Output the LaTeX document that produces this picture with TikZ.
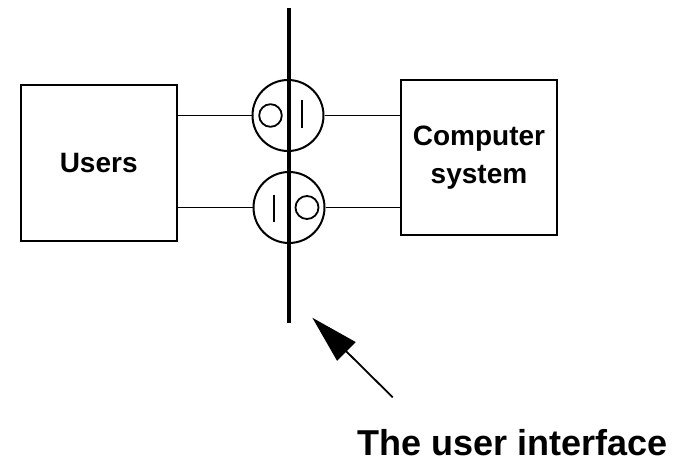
\documentclass[tikz,border=0pt]{standalone}
\usepackage{fontspec}
\setmainfont{Liberation Sans}
\usetikzlibrary{arrows.meta,calc}

\begin{document}
\begin{tikzpicture}[x=1pt,y=-1pt,
  block/.style={draw,line width=2pt,rectangle,inner sep=0pt,align=center,
    font=\bfseries\fontsize{28}{38}\selectfont},
  port/.style={draw,line width=2pt,circle,inner sep=0pt,minimum size=71pt},
  wire/.style={line width=1.6pt},
  glyph/.style={line width=1.8pt},
  boundary/.style={line width=4pt},
  pointer/.style={line width=1.8pt,-{Triangle[length=48pt,width=26pt]}}]
  \useasboundingbox (0,0) rectangle (680,465);

  % the two parties
  \node[block,minimum width=156pt,minimum height=156pt] (users) at (98.7,163) {Users};
  \node[block,minimum width=155.7pt,minimum height=155pt] (comp) at (479,157.5) {Computer\\system};

  % interface ports
  \node[port] (pin) at (288,115.5) {};
  \node[port] (pout) at (289,207.5) {};

  % port symbols
  \draw[glyph] ($(pin)+(-17.5,0)$) circle (11.3);
  \draw[glyph] ($(pin)+(14.3,-15)$) -- ($(pin)+(14.3,12.6)$);
  \draw[glyph] ($(pout)+(18,0)$) circle (11.5);
  \draw[glyph] ($(pout)+(-14.7,-12.5)$) -- ($(pout)+(-14.7,14.2)$);

  % connections
  \draw[wire] (users.east |- pin.west) -- (pin.west);
  \draw[wire] (pin.east) -- (comp.west |- pin.east);
  \draw[wire] (users.east |- pout.west) -- (pout.west);
  \draw[wire] (pout.east) -- (comp.west |- pout.east);

  % boundary line
  \coordinate (btop) at (288.5,8.3);
  \coordinate (bbot) at (288.5,323);
  \draw[boundary] (btop) -- (bbot);

  % caption and pointer
  \node[anchor=base,inner sep=0pt,font=\bfseries\fontsize{36}{40}\selectfont] (caption) at (513,455) {The user interface};
  \coordinate (ptail) at (392.7,397.3);
  \coordinate (ptip) at (312.3,317.7);
  \draw[pointer] (ptail) -- (ptip);
\end{tikzpicture}
\end{document}
